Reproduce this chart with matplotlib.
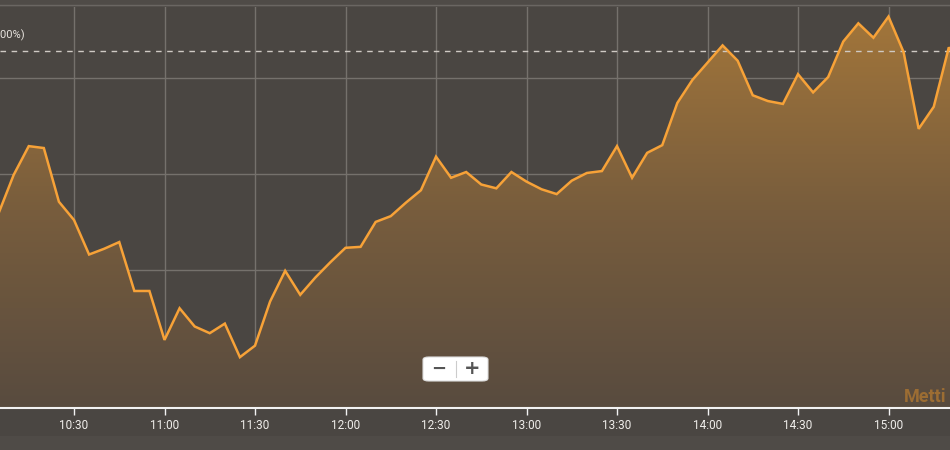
import numpy as np
import matplotlib
matplotlib.use("Agg")
import matplotlib.pyplot as plt
from matplotlib.colors import LinearSegmentedColormap
from matplotlib.patches import FancyBboxPatch, Rectangle
from matplotlib.lines import Line2D

# intraday values, one every 5 minutes from 10:05
times = ["10:05", "10:10", "10:15", "10:20", "10:25", "10:30", "10:35", "10:40", "10:45", "10:50",
         "10:55", "11:00", "11:05", "11:10", "11:15", "11:20", "11:25", "11:30", "11:35", "11:40",
         "11:45", "11:50", "11:55", "12:00", "12:05", "12:10", "12:15", "12:20", "12:25", "12:30",
         "12:35", "12:40", "12:45", "12:50", "12:55", "13:00", "13:05", "13:10", "13:15", "13:20",
         "13:25", "13:30", "13:35", "13:40", "13:45", "13:50", "13:55", "14:00", "14:05", "14:10",
         "14:15", "14:20", "14:25", "14:30", "14:35", "14:40", "14:45", "14:50", "14:55", "15:00",
         "15:05", "15:10", "15:15", "15:20", "15:25"]
values = [22259, 22299, 22329, 22327, 22271, 22252, 22216, 22222, 22229, 22178,
          22178, 22127, 22160, 22141, 22134, 22144, 22109, 22121, 22167, 22199,
          22174, 22192, 22208, 22223, 22224, 22250, 22256, 22270, 22283, 22318,
          22296, 22302, 22289, 22285, 22302, 22292, 22284, 22279, 22293, 22301,
          22303, 22329, 22296, 22322, 22330, 22374, 22398, 22416, 22434, 22418,
          22382, 22376, 22373, 22404, 22385, 22401, 22438, 22457, 22442, 22464,
          22427, 22347, 22370, 22432, 22405]
prev_close = 22428
grid_levels = [22100, 22200, 22300, 22400]
tick_labels = ["10:30", "11:00", "11:30", "12:00", "12:30", "13:00", "13:30", "14:00", "14:30", "15:00"]


def to_min(s):
    h, m = s.split(":")
    return (int(h) - 10) * 60 + int(m)


x = np.array([to_min(t) for t in times], dtype=float)
y = np.array(values, dtype=float)
xt = [to_min(t) for t in tick_labels]

bg = "#4a4642"
fig = plt.figure(figsize=[9.5, 4.5], dpi=100, facecolor=bg)
ax = fig.add_axes([0, 0.0933, 1, 0.8911])
ax.set_facecolor(bg)

x1 = 30 + (950 - 74) / 90.5 * 30
x0 = 30 - 74 / 90.5 * 30
y0, y1 = 22056, 22474
ax.set_xlim(x0, x1)
ax.set_ylim(y0, y1)

# grid
for g in grid_levels:
    ax.axhline(g, color="#75716c", lw=1, zorder=1)
for t in xt:
    ax.axvline(t, color="#75716c", lw=1, zorder=1)

# gradient fill under the line
cmap = LinearSegmentedColormap.from_list("", ["#584b3f", "#785d3d", "#a3763a"])
grad = np.linspace(0, 1, 256).reshape(-1, 1)
im = ax.imshow(grad, extent=[x0, x1, y0, max(values) + 5], origin="lower",
               aspect="auto", cmap=cmap, zorder=2)
poly = ax.fill_between(x, y, y0, color="none")
clip = poly.get_paths()[0]
im.set_clip_path(clip, transform=ax.transData)

ax.plot(x, y, color="#f7a238", lw=1.8, zorder=4, solid_joinstyle="miter")

# previous close
ax.axhline(prev_close, color="#cfcac4", lw=1, ls=(0, (4, 4)), zorder=3)
fig.text(-13 / 950, (450 - 35) / 450, "(0.00%)", color="#e8e4df", fontsize=8,
         family="Roboto", va="center", ha="left")

# axes styling
for s in ["top", "left", "right"]:
    ax.spines[s].set_visible(False)
ax.spines["bottom"].set_color("#f2f2f2")
ax.spines["bottom"].set_linewidth(1.5)
ax.set_yticks([])
ax.set_xticks(xt)
ax.set_xticklabels(tick_labels)
ax.tick_params(axis="x", colors="#f2f2f2", length=5, width=1, pad=3, labelsize=8.5)
for lab in ax.get_xticklabels():
    lab.set_family("Roboto")
    lab.set_color("#f0eeeb")

# top border and bottom strip
fig.add_artist(Rectangle((0, 1 - 7 / 450), 1, 7 / 450, transform=fig.transFigure,
                         facecolor="#4f4b47", edgecolor="none"))
fig.add_artist(Line2D([0, 1], [1 - 5 / 450] * 2, transform=fig.transFigure,
                      color="#6a6662", lw=1))
fig.add_artist(Rectangle((0, 0), 1, 14 / 450, transform=fig.transFigure,
                         facecolor="#4f4b47", edgecolor="none"))

# zoom buttons
bx, by, bw, bh = 423 / 950, (450 - 381) / 450, 65 / 950, 24 / 450
fig.add_artist(FancyBboxPatch((bx, by), bw, bh, boxstyle="round,pad=0,rounding_size=0.006",
                              transform=fig.transFigure, facecolor="white",
                              edgecolor="#dddddd", lw=0.8, zorder=10))
fig.add_artist(Line2D([456 / 950] * 2, [by + 0.008, by + bh - 0.008], transform=fig.transFigure,
                      color="#cccccc", lw=0.8, zorder=11))
fig.text(439 / 950, by + bh / 2, "\u2212", fontsize=13, color="#555555", fontweight="bold",
         ha="center", va="center", zorder=12)
fig.text(472 / 950, by + bh / 2, "+", fontsize=14, color="#555555", fontweight="bold",
         ha="center", va="center", zorder=12)

# watermark
fig.text(904 / 950, (450 - 397) / 450, "Metti", fontsize=13, color="#9c6d33",
         fontweight="bold", family="Roboto", ha="left", va="center")

fig.savefig("out.png", dpi=100, facecolor=bg)
